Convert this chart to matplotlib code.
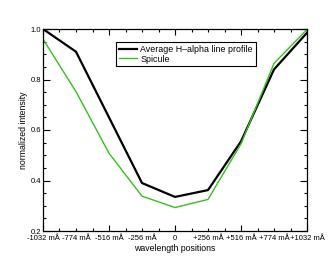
import matplotlib
matplotlib.use("Agg")
import matplotlib.pyplot as plt
from matplotlib import font_manager
import numpy as np

plt.rcParams['font.family'] = ['Liberation Sans', 'DejaVu Sans']
names = {f.name for f in font_manager.fontManager.ttflist}
narrow = 'Liberation Sans Narrow' if 'Liberation Sans Narrow' in names else 'Liberation Sans'

tick_labels = ["-1032 mÅ", "-774 mÅ", "-516 mÅ", "-256 mÅ", "0",
               "+256 mÅ", "+516 mÅ", "+774 mÅ", "+1032 mÅ"]
average_profile = [1.0, 0.91, 0.65, 0.39, 0.335, 0.362, 0.555, 0.84, 0.985]
spicule = [0.96, 0.752, 0.508, 0.338, 0.293, 0.325, 0.545, 0.864, 0.998]

fig = plt.figure(figsize=(3.34, 2.67), dpi=100)
ax = fig.add_axes([43/334, 1-231/267, 264/334, 202/267])

x = np.arange(len(tick_labels))
ax.plot(x, average_profile, color='black', lw=1.6, label='Average H\u2013alpha line profile')
ax.plot(x, spicule, color='#33c21a', lw=1.0, label='Spicule')

ax.set_xlim(0, len(tick_labels) - 1)
ax.set_ylim(0.2, 1.0)

major = [i for i in x if i % 2 == 0]
ax.set_xticks(major, [tick_labels[i] for i in major])
minor_pos = np.arange(0, len(tick_labels) - 1 + 0.01, 0.5)
minor_pos = [p for p in minor_pos if not (p.is_integer() and int(p) % 2 == 0)]
minor_labels = [tick_labels[int(p)] if float(p).is_integer() else "" for p in minor_pos]
ax.set_xticks(minor_pos, minor_labels, minor=True)

ax.set_yticks([0.2, 0.4, 0.6, 0.8, 1.0])
ax.set_yticks(np.arange(0.2, 1.001, 0.05), minor=True)

ax.tick_params(which='both', direction='in', top=True, right=True, labelsize=5.5, pad=3)
ax.tick_params(which='major', length=4, width=0.8)
ax.tick_params(which='minor', length=2.2, width=0.8)
ax.tick_params(axis='y', which='major', length=5, pad=1.5)
for lab in ax.get_xticklabels(which='both') + ax.get_yticklabels(which='both'):
    lab.set_family([narrow, 'DejaVu Sans'])

for s in ax.spines.values():
    s.set_linewidth(0.9)

ax.set_xlabel('wavelength positions', fontsize=6.3, labelpad=1)
ax.set_ylabel('normalized intensity', fontsize=6.3, labelpad=2, family=[narrow, 'DejaVu Sans'])

leg = ax.legend(loc='upper left', bbox_to_anchor=(73/264, 1 - 13/202), fontsize=6.4,
                frameon=True, fancybox=False, edgecolor='black', framealpha=1,
                handlelength=2.1, borderpad=0.3, labelspacing=0.1, handletextpad=0.35,
                borderaxespad=0)
leg.get_frame().set_linewidth(0.8)

fig.savefig('out.png', dpi=100)
